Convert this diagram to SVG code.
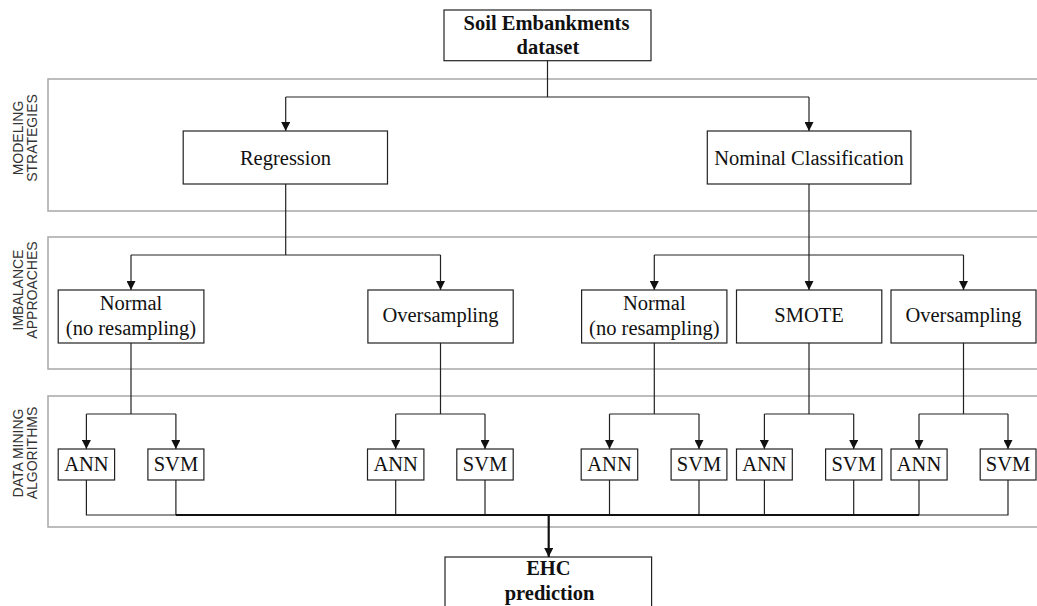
<svg xmlns="http://www.w3.org/2000/svg" width="1037" height="606" viewBox="0 0 1037 606">
<style>
.band{fill:none;stroke:#a8a8a8;stroke-width:1.5}
.box{fill:#fff;stroke:#222;stroke-width:1.2}
.t{font-family:"Liberation Serif","Times New Roman",serif;font-size:20.5px;fill:#111;text-anchor:middle}
.b{font-family:"Liberation Serif","Times New Roman",serif;font-size:20.5px;font-weight:bold;fill:#111;text-anchor:middle}
.lab{font-family:"Liberation Sans",Arial,sans-serif;font-size:14px;fill:#333;text-anchor:middle}
.c{fill:none;stroke:#222;stroke-width:1.2}
.ct{fill:none;stroke:#111;stroke-width:2.2}
</style>
<defs>
<marker id="ah" viewBox="0 0 10 10" refX="10" refY="5" markerWidth="9" markerHeight="9" markerUnits="userSpaceOnUse" orient="auto">
<path d="M0,0 L10,5 L0,10 z" fill="#111"/>
</marker>
</defs>
<rect width="1037" height="606" fill="#fff"/>

<g id="bands">
<path class="band" d="M1040,79 H48 V211 H1040"/>
<path class="band" d="M1040,237 H48 V369 H1040"/>
<path class="band" d="M1040,396 H48 V527 H1040"/>
<text class="lab" transform="translate(24,138) rotate(-90)"><tspan x="0" y="-1">MODELING</tspan><tspan x="0" y="13">STRATEGIES</tspan></text>
<text class="lab" transform="translate(24,290) rotate(-90)"><tspan x="0" y="-1">IMBALANCE</tspan><tspan x="0" y="13">APPROACHES</tspan></text>
<text class="lab" transform="translate(24,453) rotate(-90)"><tspan x="0" y="-1">DATA MINING</tspan><tspan x="0" y="13">ALGORITHMS</tspan></text>
</g>

<g id="connectors">
<path class="c" d="M547.5,60.7 V97 M285.7,97 H809"/>
<path class="c" d="M285.7,97 V131" marker-end="url(#ah)"/>
<path class="c" d="M809,97 V131" marker-end="url(#ah)"/>

<path class="c" d="M285.7,184 V255 M131,255 H440.5"/>
<path class="c" d="M131,255 V290" marker-end="url(#ah)"/>
<path class="c" d="M440.5,255 V290" marker-end="url(#ah)"/>

<path class="c" d="M654.3,255 H963.5"/>
<path class="c" d="M809,184 V290" marker-end="url(#ah)"/>
<path class="c" d="M654.3,255 V290" marker-end="url(#ah)"/>
<path class="c" d="M963.5,255 V290" marker-end="url(#ah)"/>

<path class="c" d="M131,343 V414 M86.4,414 H175.9"/>
<path class="c" d="M86.4,414 V449" marker-end="url(#ah)"/>
<path class="c" d="M175.9,414 V449" marker-end="url(#ah)"/>

<path class="c" d="M440.5,343 V414 M395.7,414 H485"/>
<path class="c" d="M395.7,414 V449" marker-end="url(#ah)"/>
<path class="c" d="M485,414 V449" marker-end="url(#ah)"/>

<path class="c" d="M654.3,343 V414 M609.5,414 H699"/>
<path class="c" d="M609.5,414 V449" marker-end="url(#ah)"/>
<path class="c" d="M699,414 V449" marker-end="url(#ah)"/>

<path class="c" d="M809,343 V414 M764.4,414 H853.7"/>
<path class="c" d="M764.4,414 V449" marker-end="url(#ah)"/>
<path class="c" d="M853.7,414 V449" marker-end="url(#ah)"/>

<path class="c" d="M963.5,343 V414 M919,414 H1008"/>
<path class="c" d="M919,414 V449" marker-end="url(#ah)"/>
<path class="c" d="M1008,414 V449" marker-end="url(#ah)"/>

<path class="c" d="M86.4,480 V515 H175.9 M175.9,480 V515 M395.7,480 V515 M485,480 V515 M609.5,480 V515 M699,480 V515 M764.4,480 V515 M853.7,480 V515 M919,480 V515 H1008 V480"/>
<path class="ct" d="M175.9,515 H919"/>
<path class="ct" d="M548.7,515 V557" marker-end="url(#ah)"/>
</g>

<g id="n-dataset">
<rect class="box" x="444" y="10" width="207" height="50.7"/>
<text class="b" x="546.5" y="30">Soil Embankments</text>
<text class="b" x="547.9" y="54">dataset</text>
</g>
<g id="n-regression">
<rect class="box" x="183.2" y="131" width="204.3" height="53"/>
<text class="t" x="285.5" y="165">Regression</text>
</g>
<g id="n-nominal">
<rect class="box" x="707.3" y="131" width="203.6" height="53"/>
<text class="t" x="809" y="165">Nominal Classification</text>
</g>

<g id="n-normal-l">
<rect class="box" x="58.2" y="290" width="145.7" height="53"/>
<text class="t" x="131" y="310">Normal</text>
<text class="t" x="131" y="335">(no resampling)</text>
</g>
<g id="n-over-l">
<rect class="box" x="367.9" y="290" width="145.3" height="53"/>
<text class="t" x="440.5" y="322">Oversampling</text>
</g>
<g id="n-normal-r">
<rect class="box" x="581.6" y="290" width="145.3" height="53"/>
<text class="t" x="654.3" y="310">Normal</text>
<text class="t" x="654.3" y="335">(no resampling)</text>
</g>
<g id="n-smote">
<rect class="box" x="736.5" y="290" width="145.3" height="53"/>
<text class="t" x="809" y="322">SMOTE</text>
</g>
<g id="n-over-r">
<rect class="box" x="891" y="290" width="145" height="53"/>
<text class="t" x="963.5" y="322">Oversampling</text>
</g>

<g id="n-ann1"><rect class="box" x="58.2" y="449" width="56.4" height="31"/><text class="t" x="86.4" y="471">ANN</text></g>
<g id="n-svm1"><rect class="box" x="147.9" y="449" width="56" height="31"/><text class="t" x="175.9" y="471">SVM</text></g>
<g id="n-ann2"><rect class="box" x="367.5" y="449" width="56.4" height="31"/><text class="t" x="395.7" y="471">ANN</text></g>
<g id="n-svm2"><rect class="box" x="456.8" y="449" width="56.4" height="31"/><text class="t" x="485" y="471">SVM</text></g>
<g id="n-ann3"><rect class="box" x="581.2" y="449" width="56.5" height="31"/><text class="t" x="609.5" y="471">ANN</text></g>
<g id="n-svm3"><rect class="box" x="671.1" y="449" width="55.8" height="31"/><text class="t" x="699" y="471">SVM</text></g>
<g id="n-ann4"><rect class="box" x="736.5" y="449" width="55.8" height="31"/><text class="t" x="764.4" y="471">ANN</text></g>
<g id="n-svm4"><rect class="box" x="825.6" y="449" width="56.2" height="31"/><text class="t" x="853.7" y="471">SVM</text></g>
<g id="n-ann5"><rect class="box" x="891" y="449" width="56.1" height="31"/><text class="t" x="919" y="471">ANN</text></g>
<g id="n-svm5"><rect class="box" x="980.2" y="449" width="55.8" height="31"/><text class="t" x="1008" y="471">SVM</text></g>

<g id="n-ehc">
<rect class="box" x="445" y="557" width="206.6" height="60"/>
<text class="b" x="548.4" y="575">EHC</text>
<text class="b" x="549.5" y="600">prediction</text>
</g>
</svg>
